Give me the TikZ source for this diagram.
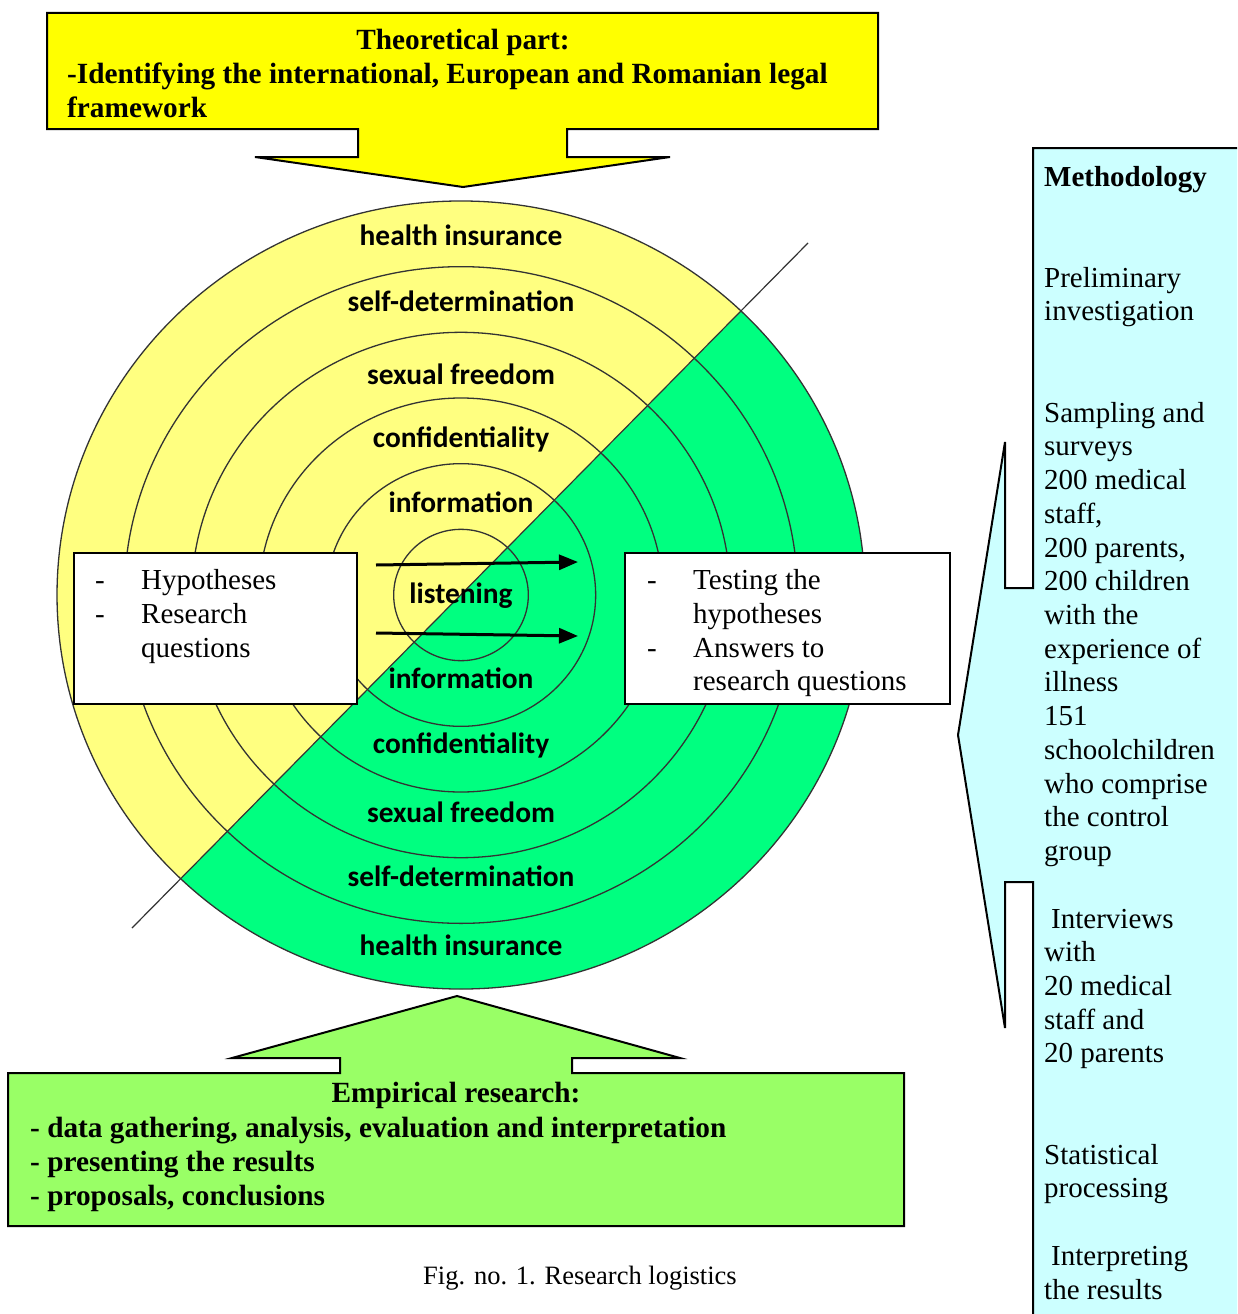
\documentclass[tikz,border=0pt]{standalone}
\usepackage{fontspec}
\setmainfont{Liberation Serif}
\newfontfamily\ringfont{Carlito}
\usetikzlibrary{arrows.meta}

\definecolor{theoryyellow}{HTML}{FFFF00}
\definecolor{ringyellow}{HTML}{FFFF80}
\definecolor{ringgreen}{HTML}{00FF80}
\definecolor{empiricgreen}{HTML}{99FF66}
\definecolor{methcyan}{HTML}{CCFFFF}
\definecolor{ringgray}{HTML}{333333}

\begin{document}
\begin{tikzpicture}[x=1pt,y=-1pt,
  ringline/.style={draw=ringgray, line width=1.3pt},
  ringlabel/.style={font=\ringfont\bfseries\fontsize{29.4}{34}\selectfont, anchor=base, inner sep=0pt},
  txt/.style={font=\fontsize{29}{34}\selectfont, anchor=base west, inner sep=0pt},
  btxt/.style={font=\bfseries\fontsize{29.3}{34}\selectfont, anchor=base west, inner sep=0pt},
  whitebox/.style={draw=black, fill=white, line width=1.6pt, anchor=north west, inner sep=0pt},
  flowarrow/.style={line width=3pt, -{Triangle[length=19pt,width=15pt]}},
  shapeline/.style={draw=black, line width=2pt, line join=miter}
]
\useasboundingbox (0,0) rectangle (1237,1314);
\clip (0,0) rectangle (1237,1314);
\fill[white] (0,0) rectangle (1237,1314);

% ---- concentric rings, split into a yellow and a green half ----
\fill[ringyellow] (461,595) ellipse [x radius=404pt, y radius=394pt];
\begin{scope}
  \clip (461,595) ellipse [x radius=404pt, y radius=394pt];
  \fill[ringgreen] (0,1062) -- (920,130) -- (920,1062) -- cycle;
\end{scope}
\foreach \k in {1,...,6}
  \draw[ringline] (461,595) ellipse [x radius={67.33pt*\k}, y radius={65.67pt*\k}];
\coordinate (diagA) at (132,928);
\coordinate (diagB) at (808,243);
\draw[ringgray, line width=1.2pt] (diagA) -- (diagB);

% ---- ring labels ----
\foreach \yy/\txt [count=\i] in {245/health insurance, 311/self-determination,
    384/sexual freedom, 447/confidentiality, 512/information, 603/listening,
    688/information, 753/confidentiality, 822/sexual freedom,
    886/self-determination, 955/health insurance}
  \node[ringlabel] (ring\i) at (461,\yy) {\txt};

% ---- theoretical part (box with downward arrow) ----
\draw[shapeline, fill=theoryyellow] (47,13) -- (878,13) -- (878,129) -- (567,129)
  -- (567,157) -- (670,157) -- (463,187) -- (255,157) -- (358,157) -- (358,129)
  -- (47,129) -- cycle;
\node[btxt, anchor=base] (theo1) at (463,50) {Theoretical part:};
\node[btxt] (theo2) at (67,84) {-Identifying the international, European and Romanian legal};
\node[btxt] (theo3) at (67,117) {framework};

% ---- empirical research (box with upward arrow) ----
\draw[shapeline, fill=empiricgreen] (8,1226) -- (904,1226) -- (904,1073) -- (572,1073)
  -- (572,1058) -- (680,1058) -- (457,996) -- (232,1058) -- (340,1058) -- (340,1073)
  -- (8,1073) -- cycle;
\node[btxt, anchor=base] (emp1) at (456,1102) {Empirical research:};
\node[btxt] (emp2) at (30,1137) {- data gathering, analysis, evaluation and interpretation};
\node[btxt] (emp3) at (30,1171) {- presenting the results};
\node[btxt] (emp4) at (30,1205) {- proposals, conclusions};

% ---- side boxes ----
\node[whitebox, minimum width=283pt, minimum height=151pt] (hypbox) at (73,552) {};
\node[txt] (hypd1) at (95,589) {-};
\node[txt] (hyp1) at (141,589) {Hypotheses};
\node[txt] (hypd2) at (95,623) {-};
\node[txt] (hyp2) at (141,623) {Research};
\node[txt] (hyp3) at (141,657) {questions};

\node[whitebox, minimum width=325pt, minimum height=151pt] (testbox) at (624,552) {};
\node[txt] (testd1) at (647,589) {-};
\node[txt] (test1) at (693,589) {Testing the};
\node[txt] (test2) at (693,623) {hypotheses};
\node[txt] (testd2) at (647,657) {-};
\node[txt] (test3) at (693,657) {Answers to};
\node[txt] (test4) at (693,690) {research questions};

% ---- arrows through the centre ----
\coordinate (arrAs) at (376,565);
\coordinate (arrAe) at (578,562);
\coordinate (arrBs) at (376,633);
\coordinate (arrBe) at (578,636);
\draw[flowarrow] (arrAs) -- (arrAe);
\draw[flowarrow] (arrBs) -- (arrBe);

% ---- methodology callout ----
\draw[shapeline, fill=methcyan] (1260,148) -- (1033,148) -- (1033,588) -- (1005,588)
  -- (1005,442) -- (958,735) -- (1005,1028) -- (1005,882) -- (1033,882)
  -- (1033,1330) -- (1260,1330) -- cycle;
\foreach \k/\txt [count=\i] in {0/{\textbf{Methodology}}, 3/Preliminary, 4/investigation,
    7/Sampling and, 8/surveys, 9/200 medical, 10/{staff,}, 11/{200 parents,},
    12/200 children, 13/with the, 14/experience of, 15/illness, 16/151,
    17/schoolchildren, 18/who comprise, 19/the control, 20/group,
    22/{\hspace{7pt}Interviews}, 23/with, 24/20 medical, 25/staff and, 26/20 parents,
    29/Statistical, 30/processing, 32/{\hspace{7pt}Interpreting}, 33/the results}
  \node[txt] (meth\i) at (1044,{186+33.73*\k}) {\txt};

% ---- caption ----
\node[font=\fontsize{26.5}{30}\selectfont, anchor=base, inner sep=0pt] (caption)
  at (580,1284) {Fig. no. 1. Research logistics};
\end{tikzpicture}
\end{document}
